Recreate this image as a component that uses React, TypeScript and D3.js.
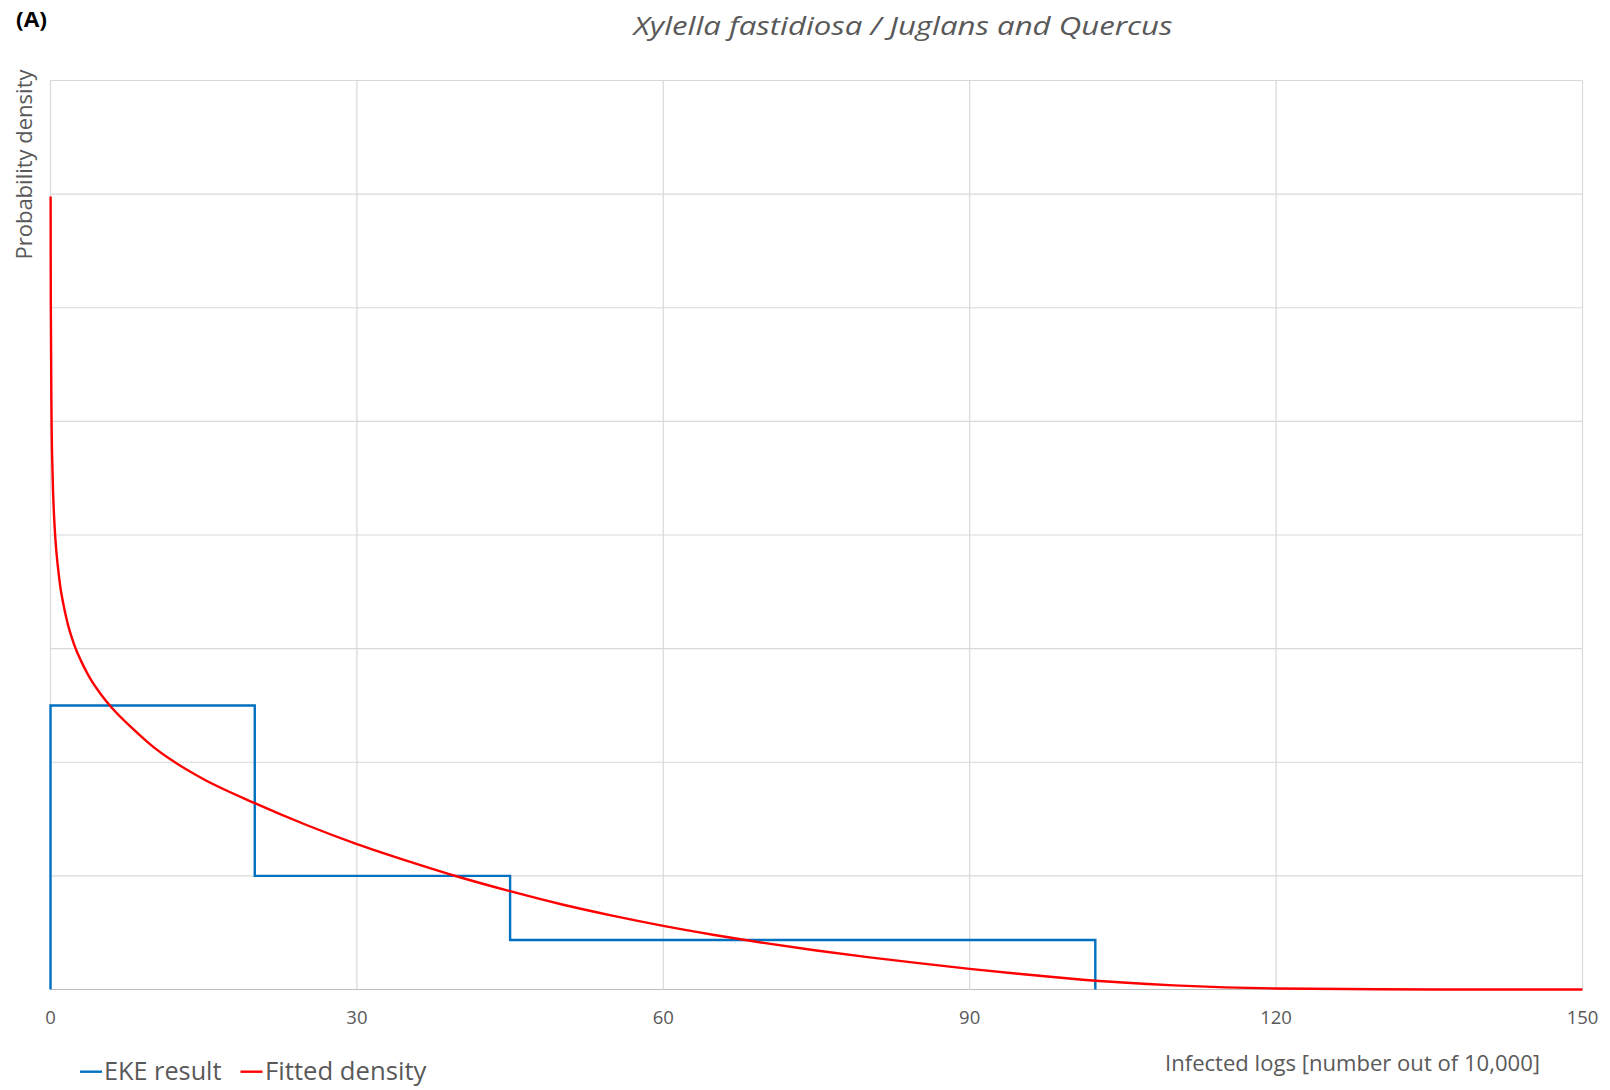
import React from "react";
import * as d3 from "d3";

const TITLE = "Xylella fastidiosa / Juglans and Quercus";
const PANEL = "(A)";
const X_LABEL = "Infected logs [number out of 10,000]";
const Y_LABEL = "Probability density";
const X_TICKS = [0, 30, 60, 90, 120, 150];
const Y_GRID = [0, 0.01, 0.02, 0.03, 0.04, 0.05, 0.06, 0.07, 0.08];

// EKE result: bin edges and densities
const EKE_EDGES = [0, 20, 45, 102.3];
const EKE_DENS = [0.025, 0.01, 0.00436];

// Fitted density
const FIT_X = [0.012, 0.03, 0.1, 0.2, 0.4, 0.55, 0.7, 0.85, 1.0, 1.2, 1.5, 1.8, 2.3, 2.6, 3.0, 3.5, 4.0, 5.0, 6.0, 8.0, 10, 12, 15, 20, 25, 30, 35, 40, 45, 50, 55, 60, 65, 70, 75, 80, 85, 90, 95, 100, 105, 110, 115, 120, 130, 140, 150];
const FIT_Y = [0.0698, 0.0606, 0.0505, 0.0455, 0.0408, 0.0388, 0.0374, 0.0362, 0.0352, 0.0342, 0.0329, 0.0318, 0.0304, 0.0297, 0.0289, 0.028, 0.0272, 0.0259, 0.0248, 0.023, 0.0214, 0.0201, 0.0185, 0.0164, 0.0145, 0.0128, 0.0113, 0.0099, 0.00865, 0.0075, 0.0065, 0.0056, 0.0048, 0.00408, 0.00343, 0.00285, 0.00232, 0.00182, 0.00136, 0.00095, 0.00061, 0.00036, 0.00019, 0.00009, 0.00002, 0, 0];

const W = 1610;
const H = 1090;
const L = 50.5;
const R = 1582.5;
const T = 80.5;
const B = 989.5;

export default function App() {
  const x = d3.scaleLinear().domain([0, 150]).range([L, R]);
  const y = d3.scaleLinear().domain([0, 0.08]).range([B, T]);

  const stepPts: [number, number][] = [[0, 0]];
  EKE_DENS.forEach((d, i) => {
    stepPts.push([EKE_EDGES[i], d]);
    stepPts.push([EKE_EDGES[i + 1], d]);
  });
  stepPts.push([EKE_EDGES[EKE_EDGES.length - 1], 0]);
  const stepLine = d3.line<[number, number]>().x((p) => x(p[0])).y((p) => y(p[1]));

  const fitPts: [number, number][] = FIT_X.map((v, i) => [v, FIT_Y[i]]);
  const fitLine = d3
    .line<[number, number]>()
    .x((p) => x(p[0]))
    .y((p) => y(p[1]))
    .curve(d3.curveMonotoneX);

  const font = "'Open Sans', 'Noto Sans', sans-serif";
  const grey = "#595959";

  return (
    <div style={{ position: "fixed", left: 0, top: 0, width: W, height: H, background: "#fff" }}>
      <svg width={W} height={H} style={{ display: "block" }}>
        <rect x={0} y={0} width={W} height={H} fill="#fff" />
        {Y_GRID.map((g) => (
          <line key={"h" + g} x1={L} x2={R} y1={y(g)} y2={y(g)} stroke={g === 0 ? "#bfbfbf" : "#d9d9d9"} strokeWidth={1.2} />
        ))}
        {X_TICKS.map((t) => (
          <line key={"v" + t} x1={x(t)} x2={x(t)} y1={T} y2={B} stroke="#d9d9d9" strokeWidth={1.2} />
        ))}
        <path d={stepLine(stepPts) || ""} fill="none" stroke="#0070C0" strokeWidth={2.4} strokeLinejoin="miter" />
        <path d={fitLine(fitPts) || ""} fill="none" stroke="#FF0000" strokeWidth={2.4} strokeLinejoin="round" />
        {X_TICKS.map((t) => (
          <text key={"t" + t} x={x(t)} y={1024} textAnchor="middle" fontFamily={font} fontSize={18.5} fill={grey}>
            {t}
          </text>
        ))}
        <text x={16} y={27} fontFamily={font} fontSize={21} fontWeight="bold" fill="#000" textLength={31} lengthAdjust="spacingAndGlyphs">
          {PANEL}
        </text>
        <text x={633.5} y={35} fontFamily={font} fontStyle="italic" fontSize={26} fill={grey} textLength={539} lengthAdjust="spacingAndGlyphs">
          {TITLE}
        </text>
        <text
          transform={`translate(31.5, 259.5) rotate(-90)`}
          x={0}
          y={0}
          fontFamily={font}
          fontSize={22}
          fill={grey}
          textLength={190}
          lengthAdjust="spacingAndGlyphs"
        >
          {Y_LABEL}
        </text>
        <text x={1165} y={1070.5} fontFamily={font} fontSize={22} fill={grey} textLength={375} lengthAdjust="spacingAndGlyphs">
          {X_LABEL}
        </text>
        <line x1={80} x2={102} y1={1071.7} y2={1071.7} stroke="#0070C0" strokeWidth={2.4} />
        <text x={104} y={1080} fontFamily={font} fontSize={25} fill={grey} textLength={117.5} lengthAdjust="spacingAndGlyphs">
          EKE result
        </text>
        <line x1={240.5} x2={262.5} y1={1071.7} y2={1071.7} stroke="#FF0000" strokeWidth={2.4} />
        <text x={265} y={1080} fontFamily={font} fontSize={25} fill={grey} textLength={161.5} lengthAdjust="spacingAndGlyphs">
          Fitted density
        </text>
      </svg>
    </div>
  );
}
